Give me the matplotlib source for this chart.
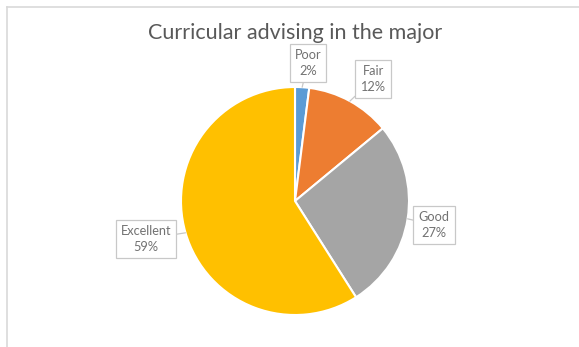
import numpy as np
import matplotlib
matplotlib.use("Agg")
import matplotlib.pyplot as plt

# survey answers, clockwise from 12 o'clock
labels = ["Poor", "Fair", "Good", "Excellent"]
shares = [2, 12, 27, 59]
colors = ["#5B9BD5", "#ED7D31", "#A5A5A5", "#FFC000"]
title = "Curricular advising in the major"

W, H = 579, 347
plt.rcParams["font.family"] = ["Lato", "DejaVu Sans"]

fig = plt.figure(figsize=(W / 100, H / 100), dpi=100)
ax = fig.add_axes([0, 0, 1, 1])

cx, cy, r = 295, H - 201, 114
wedges, _ = ax.pie(shares, colors=colors, startangle=90, counterclock=False,
                   center=(cx, cy), radius=r, frame=True,
                   wedgeprops=dict(edgecolor="white", linewidth=1.5))
ax.set_xlim(0, W)
ax.set_ylim(0, H)
ax.set_aspect("equal")
ax.axis("off")

# where each callout box sits (pixel coords from the top-left)
box_pos = {"Poor": (308, 63), "Fair": (373, 79),
           "Good": (434, 225), "Excellent": (146, 239)}

for w, lab, val in zip(wedges, labels, shares):
    mid = np.deg2rad((w.theta1 + w.theta2) / 2)
    edge = (cx + r * np.cos(mid), cy + r * np.sin(mid))
    bx, by = box_pos[lab]
    ax.annotate(f"{lab}\n{val}%", xy=edge, xytext=(bx, H - by),
                ha="center", va="center", fontsize=9.2, color="#727272",
                linespacing=1.35,
                bbox=dict(boxstyle="square,pad=0.4", fc="white",
                          ec="#c8c8c8", lw=0.9),
                arrowprops=dict(arrowstyle="-", color="#c8c8c8", lw=0.9,
                                shrinkA=0, shrinkB=0))

ax.text(295, H - 33, title, ha="center", va="center",
        fontsize=15.5, color="#595959")

# chart area frame (left and top edges only show)
ax.plot([6.5, 6.5], [0, H - 6.5], color="#d9d9d9", lw=1.2, clip_on=False)
ax.plot([6.5, W], [H - 6.5, H - 6.5], color="#d9d9d9", lw=1.2, clip_on=False)

fig.savefig("out.png", dpi=100, facecolor="white")
